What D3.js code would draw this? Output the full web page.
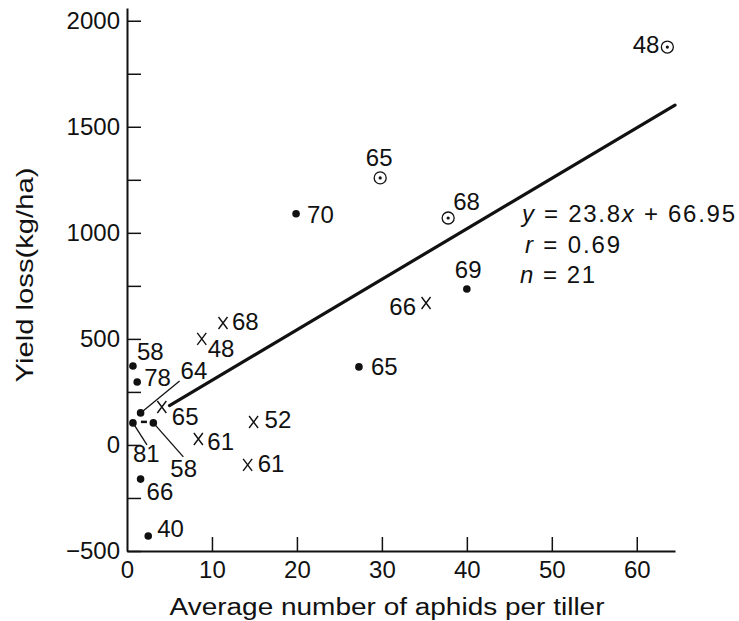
<!DOCTYPE html>
<html>
<head>
<meta charset="utf-8">
<script src="https://d3js.org/d3.v7.min.js"></script>
<style>
  body { margin: 0; background: #fff; }
  svg { display: block; }
  text { font-family: "Liberation Sans", Arial, sans-serif; fill: #111; }
</style>
</head>
<body>
<div id="chart"></div>
<script>
// ---- data ----
// filled dots
var dotX = [19.9, 40.0, 27.3, 0.7, 1.2, 1.6, 0.7, 3.1, 1.6, 2.5];
var dotY = [1090, 735, 368, 372, 297, 151, 104, 104, -161, -429];
var dotLabel = ["70", "69", "65", "58", "78", "64", "81", "58", "66", "40"];

// crosses
var crossX = [11.3, 8.8, 4.1, 14.9, 8.4, 14.2, 35.2];
var crossY = [575, 500, 179, 108, 28, -94, 669];
var crossLabel = ["68", "48", "65", "52", "61", "61", "66"];

// circled dots
var circX = [29.8, 37.8, 63.6];
var circY = [1259, 1070, 1876];
var circLabel = ["65", "68", "48"];

// fitted line
var fitSlope = 23.8;
var fitIntercept = 66.95;
var fitRange = [5, 64.5];

var xTicks = [0, 10, 20, 30, 40, 50, 60];
var yTicks = [-500, -250, 0, 250, 500, 750, 1000, 1250, 1500, 1750, 2000];

// label placement (pixel offsets from the mark) -- not data
var dotLabelPos = [[11, 9], [-12, -11], [12, 8], [4, -6], [7, 4], [40, -34], [0, 39], [17, 54], [6, 21], [9, 1]];
var crossLabelPos = [[9, 7], [6, 18], [10, 18], [11, 6], [9, 11], [10, 7], [-10, 12]];
var circLabelPos = [[-1, -12], [5, -8], [-8, 6]];
var circAnchor = ["middle", "start", "end"];
var crossAnchor = ["start", "start", "start", "start", "start", "start", "end"];
// leader lines: index of the filled dot, start offset, end offset
var leaders = [[5, 0, 0, 39, -32], [6, 0, 0, 14, 22], [7, 0, 0, 30, 34], [6, 8, -1, 14, -1]];

var width = 739, height = 621;
var x = d3.scaleLinear().domain([0, 64.5]).range([127, 675]);
var y = d3.scaleLinear().domain([-500, 2060]).range([551, 8]);

var svg = d3.select("#chart").append("svg")
  .attr("width", width)
  .attr("height", height);

// y axis: labels every 500, plain ticks every 250
var yAxis = svg.append("g")
  .attr("transform", "translate(" + x(0) + ",0)")
  .call(d3.axisLeft(y)
    .tickValues(yTicks)
    .tickSizeInner(-14)
    .tickSizeOuter(0)
    .tickPadding(7)
    .tickFormat(d => d % 500 === 0 ? (d < 0 ? "\u2212" + Math.abs(d) : d) : ""));

// x axis
var xAxis = svg.append("g")
  .attr("transform", "translate(0," + y(-500) + ")")
  .call(d3.axisBottom(x)
    .tickValues(xTicks)
    .tickSizeInner(-14)
    .tickSizeOuter(0)
    .tickPadding(10));

svg.selectAll(".domain").attr("stroke", "#111").attr("stroke-width", 2);
svg.selectAll(".tick line").attr("stroke", "#111").attr("stroke-width", 1.5);
svg.selectAll(".tick text")
  .attr("font-family", "Liberation Sans, Arial, sans-serif")
  .attr("font-size", 24)
  .attr("fill", "#111");
xAxis.selectAll(".tick").filter(d => d === 0).select("line").remove();

// axis titles
svg.append("text")
  .attr("transform", "translate(33,275) rotate(-90)")
  .attr("text-anchor", "middle")
  .attr("font-size", 24)
  .attr("textLength", 215)
  .attr("lengthAdjust", "spacingAndGlyphs")
  .text("Yield loss(kg/ha)");

svg.append("text")
  .attr("x", 387)
  .attr("y", 615)
  .attr("text-anchor", "middle")
  .attr("font-size", 23)
  .attr("textLength", 435)
  .attr("lengthAdjust", "spacingAndGlyphs")
  .text("Average number of aphids per tiller");

// regression line
svg.append("line")
  .attr("x1", x(fitRange[0]))
  .attr("y1", y(fitSlope * fitRange[0] + fitIntercept))
  .attr("x2", x(fitRange[1]))
  .attr("y2", y(fitSlope * fitRange[1] + fitIntercept))
  .attr("stroke", "#111")
  .attr("stroke-width", 3.2)
  .attr("stroke-linecap", "round");

// leader lines
svg.selectAll(".leader")
  .data(leaders)
  .enter().append("line")
    .attr("class", "leader")
    .attr("x1", d => x(dotX[d[0]]) + d[1])
    .attr("y1", d => y(dotY[d[0]]) + d[2])
    .attr("x2", d => x(dotX[d[0]]) + d[3])
    .attr("y2", d => y(dotY[d[0]]) + d[4])
    .attr("stroke", "#111")
    .attr("stroke-width", d => d[1] ? 2.5 : 1.3);

// filled dots
svg.selectAll(".dot")
  .data(dotX)
  .enter().append("circle")
    .attr("class", "dot")
    .attr("cx", d => x(d))
    .attr("cy", (d, i) => y(dotY[i]))
    .attr("r", 3.8)
    .attr("fill", "#111");

// crosses
var cross = svg.selectAll(".cross")
  .data(crossX)
  .enter().append("g")
    .attr("class", "cross")
    .attr("transform", (d, i) => "translate(" + x(d) + "," + y(crossY[i]) + ")");
cross.append("path")
  .attr("d", "M-4.5,-6L4.5,6M4.5,-6L-4.5,6")
  .attr("stroke", "#111")
  .attr("stroke-width", 1.4)
  .attr("fill", "none");

// circled dots
var circ = svg.selectAll(".circ")
  .data(circX)
  .enter().append("g")
    .attr("class", "circ")
    .attr("transform", (d, i) => "translate(" + x(d) + "," + y(circY[i]) + ")");
circ.append("circle").attr("r", 6).attr("fill", "none").attr("stroke", "#111").attr("stroke-width", 1.3);
circ.append("circle").attr("r", 1.6).attr("fill", "#111");

// point labels
function addLabels(xs, ys, labels, pos, anchors) {
  svg.append("g").selectAll("text")
    .data(labels)
    .enter().append("text")
      .attr("x", (d, i) => x(xs[i]) + pos[i][0])
      .attr("y", (d, i) => y(ys[i]) + pos[i][1])
      .attr("text-anchor", (d, i) => anchors ? anchors[i] : "start")
      .attr("font-size", 24)
      .text(d => d);
}
addLabels(dotX, dotY, dotLabel, dotLabelPos);
addLabels(crossX, crossY, crossLabel, crossLabelPos, crossAnchor);
addLabels(circX, circY, circLabel, circLabelPos, circAnchor);

// regression statistics
var stats = svg.append("g").attr("font-size", 24);
var t1 = stats.append("text").attr("x", 522).attr("y", 222)
  .attr("textLength", 213).attr("lengthAdjust", "spacing");
t1.append("tspan").attr("font-style", "italic").text("y");
t1.append("tspan").text(" = 23.8");
t1.append("tspan").attr("font-style", "italic").text("x");
t1.append("tspan").text(" + 66.95");

var t2 = stats.append("text").attr("x", 525).attr("y", 253)
  .attr("textLength", 95).attr("lengthAdjust", "spacing");
t2.append("tspan").attr("font-style", "italic").text("r");
t2.append("tspan").text(" = " + "0.69");

var t3 = stats.append("text").attr("x", 520).attr("y", 283)
  .attr("textLength", 75).attr("lengthAdjust", "spacing");
t3.append("tspan").attr("font-style", "italic").text("n");
t3.append("tspan").text(" = " + "21");
</script>
</body>
</html>
